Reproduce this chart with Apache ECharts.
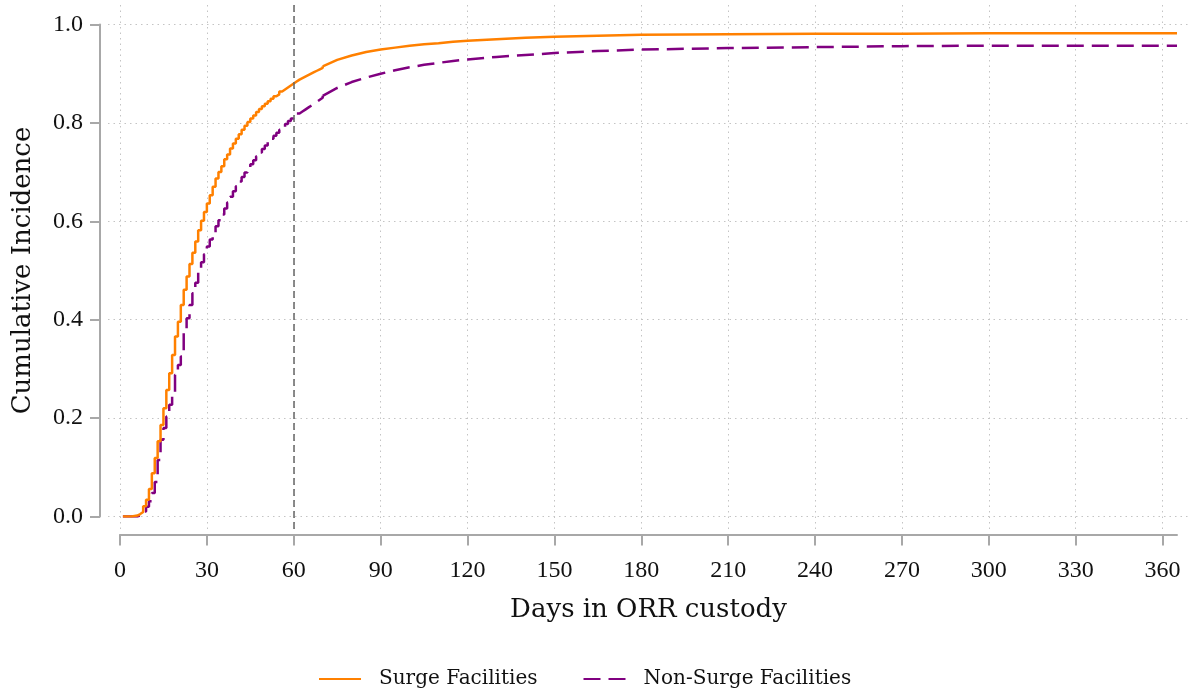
<!DOCTYPE html>
<html>
<head>
<meta charset="utf-8">
<title>Cumulative Incidence</title>
<script src="https://cdn.jsdelivr.net/npm/echarts@6.0.0/dist/echarts.min.js"></script>
<style>
  html, body { margin: 0; padding: 0; background: #fff; }
  #chart { width: 1193px; height: 692px; }
</style>
</head>
<body>
<div id="chart"></div>
<script>
// 前70天为逐日阶梯 (day 1 起)
const surgeDaily = [
  0, 0, 0, 0.001, 0.002, 0.005, 0.009, 0.021, 0.034, 0.056,
  0.088, 0.119, 0.153, 0.186, 0.220, 0.257, 0.291, 0.328, 0.366, 0.396,
  0.430, 0.461, 0.488, 0.513, 0.536, 0.559, 0.582, 0.601, 0.619, 0.636,
  0.653, 0.670, 0.687, 0.700, 0.712, 0.726, 0.736, 0.748, 0.758, 0.768,
  0.777, 0.786, 0.794, 0.802, 0.809, 0.815, 0.822, 0.828, 0.834, 0.839,
  0.844, 0.849, 0.854, 0.858, 0.864, 0.868, 0.872, 0.876, 0.880, 0.884,
  0.888, 0.891, 0.894, 0.897, 0.900, 0.903, 0.906, 0.909, 0.912, 0.915
];
const nonSurgeDaily = [
  0, 0, 0, 0, 0, 0.002, 0.005, 0.010, 0.020, 0.031,
  0.048, 0.070, 0.115, 0.156, 0.180, 0.203, 0.227, 0.244, 0.288, 0.308,
  0.325, 0.373, 0.403, 0.430, 0.454, 0.475, 0.497, 0.517, 0.533, 0.549,
  0.563, 0.577, 0.590, 0.602, 0.614, 0.626, 0.638, 0.650, 0.661, 0.671,
  0.681, 0.690, 0.699, 0.708, 0.716, 0.724, 0.732, 0.740, 0.747, 0.754,
  0.761, 0.768, 0.774, 0.780, 0.786, 0.792, 0.798, 0.804, 0.809, 0.814,
  0.819, 0.823, 0.827, 0.831, 0.835, 0.839, 0.843, 0.847, 0.851, 0.855
];

// 70天以后曲线平缓, 取稀疏点
const lateDays     = [70, 75, 80, 85, 90, 95, 100, 105, 110, 115, 120, 130, 140, 150, 165, 180, 210, 240, 270, 300, 330, 365];
const surgeLate    = [0.915, 0.928, 0.937, 0.944, 0.949, 0.953, 0.957, 0.960, 0.962, 0.965, 0.967, 0.970, 0.973, 0.975, 0.977, 0.979, 0.980, 0.981, 0.981, 0.982, 0.982, 0.982];
const nonSurgeLate = [0.855, 0.871, 0.883, 0.892, 0.900, 0.907, 0.913, 0.918, 0.922, 0.926, 0.929, 0.934, 0.938, 0.942, 0.946, 0.949, 0.952, 0.954, 0.956, 0.957, 0.957, 0.957];

const xTicks = [0, 30, 60, 90, 120, 150, 180, 210, 240, 270, 300, 330, 360];
const yTicks = [0, 0.2, 0.4, 0.6, 0.8, 1.0];
const cutoffDay = 60;

const names = ['Surge Facilities', 'Non-Surge Facilities'];
const ORANGE = '#FF8000';
const PURPLE = '#800080';
const NUM_FONT = 'Liberation Serif';
const TXT_FONT = 'DejaVu Serif';

function daily(arr) {
  return arr.map((v, i) => [i + 1, v]);
}
function pairs(xs, ys) {
  return xs.map((x, i) => [x, ys[i]]);
}

/**
 * 累积发生率曲线
 * @param { String } ID  渲染到某元素的id
 */
function draw_Incidence(ID) {
  const gridLine = { show: true, lineStyle: { color: '#c4c4c4', width: 1, type: [1.5, 4] } };
  const axisGray = { color: '#a8a8a8', width: 2 };

  let option = {
    animation: false,
    backgroundColor: '#fff',
    grid: [
      // 0: 背景网格 (比数据范围略大)
      { left: 108, right: 3, top: 5, bottom: 163 },
      // 1: 数据区域
      { left: 120, right: 16, top: 24.5, bottom: 175.5 }
    ],
    legend: {
      data: names,
      left: 313,
      top: 664,
      itemWidth: 42,
      itemHeight: 14,
      itemGap: 45,
      itemStyle: { opacity: 0 },
      textStyle: { fontFamily: TXT_FONT, fontSize: 20, color: '#111', padding: [0, 0, 0, 13] }
    },
    xAxis: [
      {
        gridIndex: 0, type: 'value', min: -4.144, max: 369.49,
        axisLine: { show: false },
        axisTick: { show: false, customValues: xTicks },
        axisLabel: { show: false },
        splitLine: gridLine
      },
      {
        gridIndex: 1, type: 'value', min: 0, max: 365, interval: 30,
        offset: 18,
        name: 'Days in ORR custody',
        nameLocation: 'middle',
        nameGap: 63,
        nameTextStyle: { fontFamily: TXT_FONT, fontSize: 26, color: '#111' },
        axisLine: { show: true, onZero: false, lineStyle: axisGray },
        axisTick: { show: true, length: 11, lineStyle: axisGray, customValues: xTicks },
        axisLabel: { fontFamily: NUM_FONT, fontSize: 24, color: '#111', margin: 24, customValues: xTicks },
        splitLine: { show: false }
      }
    ],
    yAxis: [
      {
        gridIndex: 0, type: 'value', min: -0.02541, max: 1.03963,
        axisLine: { show: false },
        axisTick: { show: false, customValues: yTicks },
        axisLabel: { show: false },
        splitLine: gridLine
      },
      {
        gridIndex: 1, type: 'value', min: 0, max: 1, interval: 0.2,
        offset: 20,
        name: 'Cumulative Incidence',
        nameLocation: 'middle',
        nameGap: 64,
        nameTextStyle: { fontFamily: TXT_FONT, fontSize: 26, color: '#111' },
        axisLine: { show: true, onZero: false, lineStyle: axisGray },
        axisTick: { show: true, length: 10, lineStyle: axisGray },
        axisLabel: { fontFamily: NUM_FONT, fontSize: 24, color: '#111', margin: 17, formatter: v => v.toFixed(1) },
        splitLine: { show: false }
      }
    ],
    series: [
      // 60天参考线
      {
        type: 'line', xAxisIndex: 0, yAxisIndex: 0, data: [], silent: true,
        markLine: {
          silent: true, symbol: 'none', label: { show: false },
          lineStyle: { color: '#666', width: 1.5, type: [7, 4] },
          data: [{ xAxis: cutoffDay }]
        }
      },
      {
        name: names[0], type: 'line', xAxisIndex: 1, yAxisIndex: 1,
        step: 'end', symbol: 'none', color: ORANGE,
        lineStyle: { color: ORANGE, width: 2.5 },
        data: daily(surgeDaily), z: 4
      },
      {
        name: names[0], type: 'line', xAxisIndex: 1, yAxisIndex: 1,
        symbol: 'none', color: ORANGE,
        lineStyle: { color: ORANGE, width: 2.5, join: 'round' },
        data: pairs(lateDays, surgeLate), z: 4
      },
      {
        name: names[1], type: 'line', xAxisIndex: 1, yAxisIndex: 1,
        step: 'end', symbol: 'none', color: PURPLE,
        lineStyle: { color: PURPLE, width: 2.5, type: [17, 8] },
        data: daily(nonSurgeDaily), z: 3
      },
      {
        name: names[1], type: 'line', xAxisIndex: 1, yAxisIndex: 1,
        symbol: 'none', color: PURPLE,
        lineStyle: { color: PURPLE, width: 2.5, type: [17, 8], join: 'round' },
        data: pairs(lateDays, nonSurgeLate), z: 3
      }
    ]
  };

  let myChart = echarts.init(document.getElementById(ID));
  myChart.setOption(option);
}

draw_Incidence('chart');
</script>
</body>
</html>
